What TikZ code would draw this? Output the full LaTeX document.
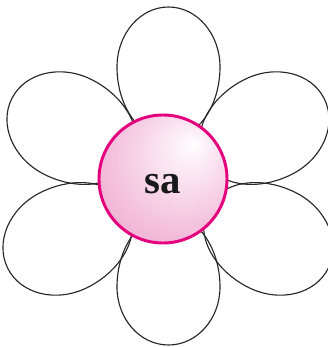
\documentclass[tikz,border=0pt]{standalone}
\usepackage{fontspec}
\usepackage{tikz}
\usetikzlibrary{positioning}
\newfontfamily\syllfont{Liberation Serif}
\definecolor{RimPink}{RGB}{228,0,124}
\definecolor{CorePink}{RGB}{236,150,198}
\pgfdeclareradialshading{coreball}{\pgfpoint{12bp}{14bp}}{%
  color(0bp)=(white); color(6bp)=(CorePink!15);
  color(32bp)=(CorePink!70); color(58bp)=(CorePink)}
\tikzset{
  petal/.style={draw=black!85,line width=0.8pt},
  core/.style={circle,draw=RimPink,line width=2.1pt,minimum size=3.2cm,
               inner sep=0pt,shading=coreball},
  syll/.style={font=\syllfont\fontsize{29}{32}\selectfont\bfseries,text=black!90,inner sep=0pt},
}

\begin{document}
\begin{tikzpicture}[scale=0.025]
  \useasboundingbox (0,0) rectangle (327,347);
  % petals: centre x / centre y / angle / outer / inner / half width
  \foreach \px/\py/\ang/\aout/\ain/\b in {
      168.5/280/90/60/72/51.5,
      168.5/60/270/58/72/51.5,
      68/220/153/63/72/53,
      268/220/27/63/72/53,
      64/107/207/63/72/53,
      272/107/333/63/72/53}{
    \begin{scope}[shift={(\px,\py)},rotate=\ang]
      \draw[petal] (0,-\b) arc[start angle=-90,end angle=90,x radius=\aout,y radius=\b]
                   arc[start angle=90,end angle=270,x radius=\ain,y radius=\b];
    \end{scope}
  }
  \node[core] (centre) at (163,168) {};
  \node[syll] (sa) at (163,163) {sa};
\end{tikzpicture}
\end{document}
